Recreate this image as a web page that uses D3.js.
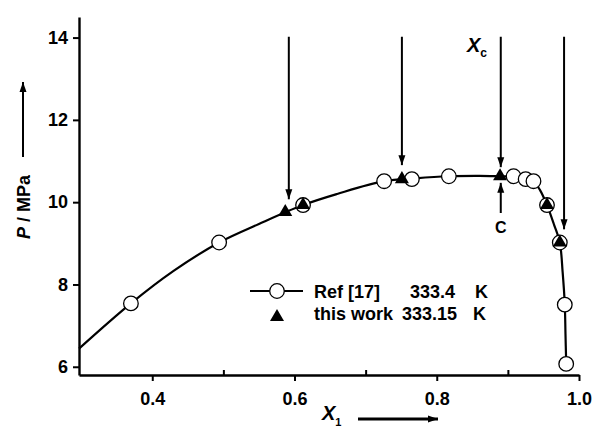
<!DOCTYPE html>
<html><head><meta charset="utf-8">
<script src="https://cdn.jsdelivr.net/npm/d3@7"></script>
<style>body{margin:0;background:#fff}svg{display:block;font-family:"Liberation Sans",Arial,sans-serif}</style>
</head><body><svg id="c" width="594" height="437"></svg>
<script>
const xTicks = [0.4, 0.6, 0.8, 1.0];
const xMinorTicks = [0.5, 0.7, 0.9];
const yTicks = [6, 8, 10, 12, 14];
const refX = [0.370, 0.494, 0.612, 0.726, 0.765, 0.817, 0.908, 0.925, 0.936, 0.955, 0.973, 0.980, 0.982];
const refY = [7.54, 9.02, 9.93, 10.51, 10.56, 10.63, 10.63, 10.56, 10.51, 9.93, 9.02, 7.51, 6.07];
const workX = [0.587, 0.612, 0.751, 0.889, 0.955, 0.973];
const workY = [9.76, 9.93, 10.56, 10.63, 9.93, 9.02];
const curveX = [0.297, 0.370, 0.430, 0.494, 0.550, 0.612, 0.660, 0.726, 0.770, 0.817, 0.860, 0.889, 0.910, 0.925, 0.936, 0.945, 0.955, 0.965, 0.973, 0.977, 0.980, 0.981, 0.982];
const curveY = [6.44, 7.54, 8.33, 9.02, 9.47, 9.93, 10.20, 10.51, 10.58, 10.63, 10.64, 10.63, 10.62, 10.56, 10.50, 10.30, 9.93, 9.45, 9.02, 8.30, 7.51, 6.80, 6.07];
const arrowX = [0.592, 0.751, 0.890, 0.979];
const arrowTip = [10.07, 10.90, 10.85, 9.34];
const arrowTop = 14.02;
const legendNames = ["Ref [17]", "this work"];
const legendTemps = ["333.4", "333.15"];

const svg = d3.select("#c");
const x = d3.scaleLinear().domain([0.297, 1.0]).range([79, 579]);
const y = d3.scaleLinear().domain([5.8, 14.5]).range([375, 17]);
const FONT = "Liberation Sans, Arial, sans-serif";

svg.append("defs").append("marker").attr("id","ah").attr("viewBox","0 0 10 10")
  .attr("refX",10).attr("refY",5).attr("markerWidth",10).attr("markerHeight",10)
  .attr("markerUnits","userSpaceOnUse").attr("orient","auto")
  .append("path").attr("d","M0,1.5 L10,5 L0,8.5 Z").attr("fill","#000");

// axes
const gx = svg.append("g").attr("transform","translate(0,375)")
  .call(d3.axisBottom(x).tickValues(xTicks).tickFormat(d3.format(".1f")).tickSize(6).tickSizeOuter(0));
const gxm = svg.append("g").attr("transform","translate(0,375)")
  .call(d3.axisTop(x).tickValues(xMinorTicks).tickFormat("").tickSize(5).tickSizeOuter(0));
gxm.select(".domain").remove();
const gy = svg.append("g").attr("transform","translate(79,0)")
  .call(d3.axisLeft(y).tickValues(yTicks).tickSize(6).tickSizeOuter(0));
[gx,gxm,gy].forEach(g=>{
  g.selectAll(".domain").attr("stroke","#000").attr("stroke-width",2.4);
  g.selectAll(".tick line").attr("stroke","#000").attr("stroke-width",2);
  g.selectAll("text").attr("fill","#000").attr("font-size",18).attr("font-weight","bold").attr("font-family",FONT);
});
gx.selectAll("text").attr("dy","1.17em");
gy.selectAll("text").attr("dx","-2px");

// curve
const line = d3.line().x(d=>x(d[0])).y(d=>y(d[1])).curve(d3.curveCatmullRom.alpha(0.5));
svg.append("path").datum(curveX.map((v,i)=>[v,curveY[i]])).attr("d",line)
  .attr("fill","none").attr("stroke","#000").attr("stroke-width",2.2);

// circles
svg.selectAll("circle.ref").data(refX.map((v,i)=>[v,refY[i]])).join("circle")
  .attr("cx",d=>x(d[0])).attr("cy",d=>y(d[1])).attr("r",7.3)
  .attr("fill","#fff").attr("stroke","#000").attr("stroke-width",1.3);
// triangles
const tri = d3.symbol().type(d3.symbolTriangle).size(85);
svg.selectAll("path.tw").data(workX.map((v,i)=>[v,workY[i]])).join("path")
  .attr("d",tri).attr("transform",d=>`translate(${x(d[0])},${y(d[1])})`).attr("fill","#000");

// arrows
arrowX.forEach((v,i)=>{
  svg.append("line").attr("x1",x(v)).attr("x2",x(v)).attr("y1",y(arrowTop)).attr("y2",y(arrowTip[i]))
    .attr("stroke","#000").attr("stroke-width",2).attr("marker-end","url(#ah)");
});
// C arrow
svg.append("line").attr("x1",x(0.890)).attr("x2",x(0.890)).attr("y1",213).attr("y2",y(10.47))
  .attr("stroke","#000").attr("stroke-width",2).attr("marker-end","url(#ah)");
svg.append("text").attr("x",x(0.890)).attr("y",233).attr("text-anchor","middle")
  .attr("font-size",16).attr("font-weight","bold").text("C");
// Xc label
const xc = svg.append("text").attr("x",467).attr("y",52).attr("font-size",20).attr("font-weight","bold");
xc.append("tspan").attr("font-style","italic").text("X");
xc.append("tspan").attr("font-size",12).attr("dy",5).text("c");

// legend
const lg = svg.append("g");
lg.append("line").attr("x1",250).attr("x2",303).attr("y1",291).attr("y2",291).attr("stroke","#000").attr("stroke-width",2);
lg.append("circle").attr("cx",277).attr("cy",291).attr("r",7.3).attr("fill","#fff").attr("stroke","#000").attr("stroke-width",1.3);
lg.append("path").attr("d",tri).attr("transform","translate(277,317)").attr("fill","#000");
const rows = [298, 320];
legendNames.forEach((n,i)=>{
  lg.append("text").attr("x",314).attr("y",rows[i]).attr("font-size",18).attr("font-weight","bold").text(n);
  lg.append("text").attr("x",i===0?410:402).attr("y",rows[i]).attr("font-size",18).attr("font-weight","bold").text(legendTemps[i]);
  lg.append("text").attr("x",i===0?475:473).attr("y",rows[i]).attr("font-size",18).attr("font-weight","bold").text("K");
});

// axis titles
const xt = svg.append("text").attr("x",322).attr("y",420).attr("font-size",20).attr("font-weight","bold");
xt.append("tspan").attr("font-style","italic").text("X");
xt.append("tspan").attr("font-size",11).attr("dy",6).text("1");
svg.append("line").attr("x1",358).attr("x2",438).attr("y1",419).attr("y2",419)
  .attr("stroke","#000").attr("stroke-width",3).attr("marker-end","url(#ah)");

const yt = svg.append("text").attr("transform","translate(30,207) rotate(-90)").attr("text-anchor","middle")
  .attr("font-size",18).attr("font-weight","bold");
yt.append("tspan").attr("font-style","italic").text("P");
yt.append("tspan").text(" / MPa");
svg.append("line").attr("x1",23).attr("x2",23).attr("y1",157).attr("y2",82)
  .attr("stroke","#000").attr("stroke-width",2).attr("marker-end","url(#ah)");
</script></body></html>
